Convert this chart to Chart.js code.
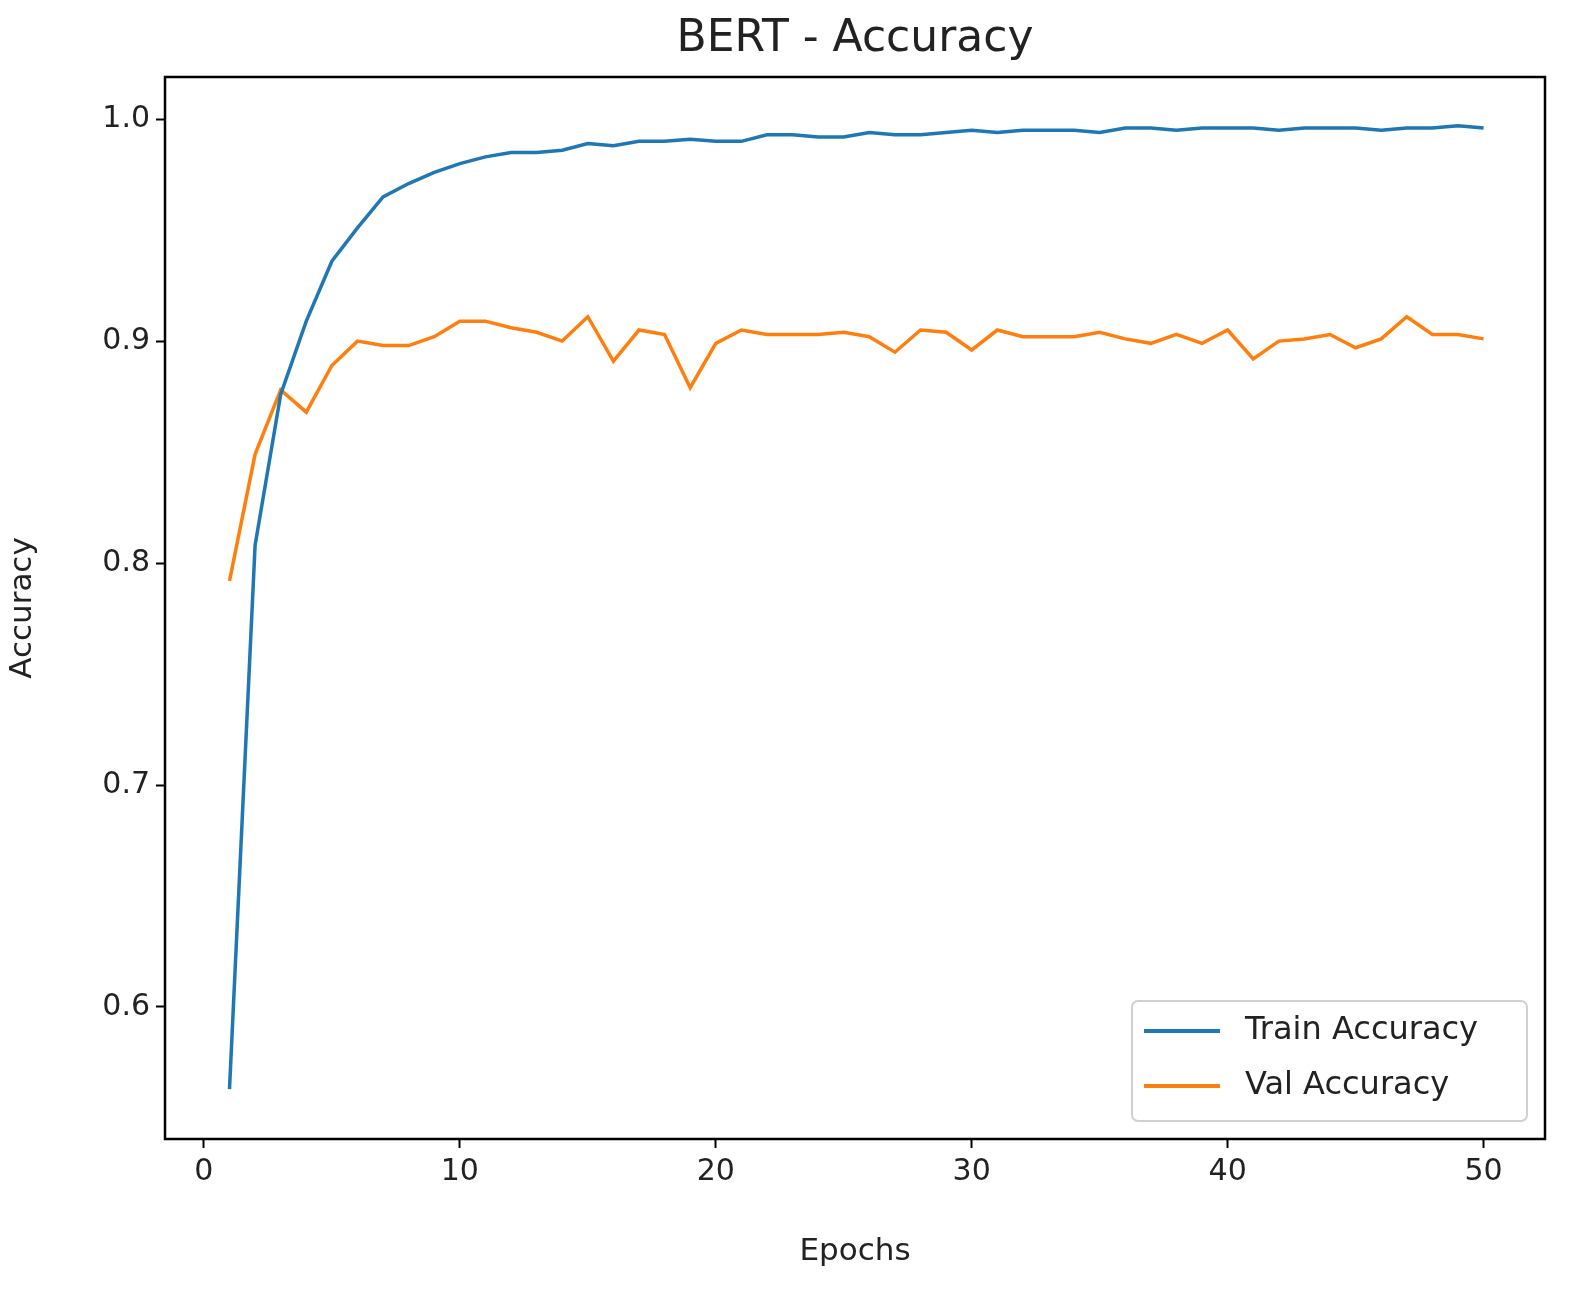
<!DOCTYPE html>
<html><head><meta charset="utf-8">
<script src="https://cdn.jsdelivr.net/npm/chart.js@4.4.0/dist/chart.umd.min.js"></script>
<style>html,body{margin:0;padding:0;background:#fff;overflow:hidden}#w{width:1595px;height:1295px}</style>
</head><body><div id="w"><canvas id="c"></canvas></div>
<script>
const epochs = Array.from({length:50},(_,i)=>i+1);
const trainAcc = [0.563,0.808,0.876,0.909,0.936,0.951,0.965,0.971,0.976,0.980,
0.983,0.985,0.985,0.986,0.989,0.988,0.990,0.990,0.991,0.990,
0.990,0.993,0.993,0.992,0.992,0.994,0.993,0.993,0.994,0.995,
0.994,0.995,0.995,0.995,0.994,0.996,0.996,0.995,0.996,0.996,
0.996,0.995,0.996,0.996,0.996,0.995,0.996,0.996,0.997,0.996];
const valAcc = [0.792,0.849,0.878,0.868,0.889,0.900,0.898,0.898,0.902,0.909,
0.909,0.906,0.904,0.900,0.911,0.891,0.905,0.903,0.879,0.899,
0.905,0.903,0.903,0.903,0.904,0.902,0.895,0.905,0.904,0.896,
0.905,0.902,0.902,0.902,0.904,0.901,0.899,0.903,0.899,0.905,
0.892,0.900,0.901,0.903,0.897,0.901,0.911,0.903,0.903,0.901];
const xTicks = [0,10,20,30,40,50];
const yTicks = [0.6,0.7,0.8,0.9,1.0];
const seriesLabels = ['Train Accuracy','Val Accuracy'];
const titleText = 'BERT - Accuracy';
const colors = ['#1f77b4','#ff7f0e'];
const FONT = 'DejaVu Sans';

const framePlugin = {
  id:'frame',
  afterDraw(chart){
    const {ctx, chartArea:a} = chart;
    ctx.save();
    ctx.strokeStyle='#000'; ctx.lineWidth=2.5;
    ctx.strokeRect(a.left,a.top,a.right-a.left,a.bottom-a.top);
    // title centred over plot area
    ctx.fillStyle='#222'; ctx.font='44px '+FONT; ctx.textAlign='center'; ctx.textBaseline='middle';
    ctx.fillText(titleText,(a.left+a.right)/2,40);
    ctx.textAlign='left';
    // legend
    const bx=1132,by=1001,bw=395,bh=120;
    ctx.fillStyle='rgba(255,255,255,0.8)';
    ctx.strokeStyle='#d0d0d0'; ctx.lineWidth=2;
    ctx.beginPath(); ctx.roundRect(bx,by,bw,bh,6); ctx.fill(); ctx.stroke();
    ctx.font='32px '+FONT; ctx.textBaseline='middle'; ctx.fillStyle='#222';
    chart.data.datasets.forEach((d,i)=>{
      const y=by+30+i*55;
      ctx.strokeStyle=d.borderColor; ctx.lineWidth=4;
      ctx.beginPath(); ctx.moveTo(bx+12,y); ctx.lineTo(bx+88,y); ctx.stroke();
      ctx.fillText(d.label,bx+113,y);
    });
    ctx.restore();
  }
};
const fixTicks = arr => s => { s.ticks = arr.map(v=>({value:v})); };
new Chart(document.getElementById('c'),{
  type:'line',
  data:{labels:epochs,datasets:[
    {label:seriesLabels[0],data:epochs.map((e,i)=>({x:e,y:trainAcc[i]})),borderColor:colors[0],backgroundColor:colors[0],borderWidth:3.5,pointRadius:0,tension:0},
    {label:seriesLabels[1],data:epochs.map((e,i)=>({x:e,y:valAcc[i]})),borderColor:colors[1],backgroundColor:colors[1],borderWidth:3.5,pointRadius:0,tension:0}
  ]},
  options:{
    responsive:true,maintainAspectRatio:false,animation:false,
    layout:{padding:{top:77,right:50,bottom:20,left:0}},
    plugins:{legend:{display:false},tooltip:{enabled:false},title:{display:false}},
    scales:{
      x:{type:'linear',min:-1.52,max:52.4,afterBuildTicks:fixTicks(xTicks),
        afterFit(s){s.height=136;},
        grid:{drawOnChartArea:false,drawTicks:true,tickLength:9,color:'#000',tickWidth:2},
        border:{display:false},
        ticks:{color:'#222',font:{family:FONT,size:30},padding:6,maxRotation:0,callback:v=>String(v)},
        title:{display:true,text:'Epochs',color:'#222',font:{family:FONT,size:31},padding:{top:8}}},
      y:{min:0.5405,max:1.019,afterBuildTicks:fixTicks(yTicks),
        afterFit(s){s.width=165;},
        grid:{drawOnChartArea:false,drawTicks:true,tickLength:9,color:'#000',tickWidth:2},
        border:{display:false},
        ticks:{color:'#222',font:{family:FONT,size:30},padding:6,callback:v=>v.toFixed(1)},
        title:{display:true,text:'Accuracy',color:'#222',font:{family:FONT,size:31},padding:{bottom:10}}}
    }
  },
  plugins:[framePlugin]
});
</script></body></html>
